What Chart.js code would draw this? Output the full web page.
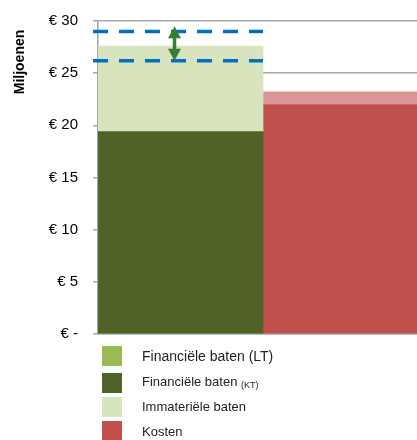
<!DOCTYPE html>
<html>
<head>
<meta charset="utf-8">
<script src="https://cdn.jsdelivr.net/npm/chart.js@4"></script>
<style>
    html, body { margin: 0; padding: 0; background: #fff; overflow: hidden; width: 417px; height: 440px; }
    #wrap { position: relative; width: 428px; height: 345px; }
    #chart { position: absolute; left: 0; top: -3px; }
    #legend { position: absolute; left: 102px; top: 346px; font-family: Arial, "Liberation Sans", sans-serif; }
    .item { position: absolute; left: 0; width: 300px; height: 20px; }
    .sw { position: absolute; left: 0; top: 0; width: 20px; height: 20px; }
    .lbl { position: absolute; left: 40px; white-space: nowrap; color: #222; }
    .lbl sub { font-size: 9px; vertical-align: -2px; }
</style>
</head>
<body>
<div id="wrap"><canvas id="chart" width="428" height="361"></canvas></div>
<div id="legend"></div>
<script>
// chart values (miljoenen euro)
const categories = ['Baten', 'Kosten'];
const financieleKT = [19.4, null];
const immaterieel = [8.2, null];
const kosten = [null, 22.0];
const kostenExtra = [null, 1.2];
const bandLines = [29.0, 26.2];
const arrowRange = [29.5, 26.2];
const yTicks = [0, 5, 10, 15, 20, 25, 30];

const colors = {
    lt: '#9BBB59',
    kt: '#4F6228',
    imm: '#D7E4BD',
    kosten: '#C0504D',
    kostenExtra: '#D99694'
};

// legend entries (first one is bigger in the original)
const legendItems = [
    { color: colors.lt, html: 'Financiële baten (LT)', top: 0, size: 14, textTop: 2 },
    { color: colors.kt, html: 'Financiële baten <sub>(KT)</sub>', top: 27, size: 13, textTop: 1 },
    { color: colors.imm, html: 'Immateriële baten', top: 51, size: 13, textTop: 2 },
    { color: colors.kosten, html: 'Kosten', top: 75, size: 13, textTop: 3 }
];

const legend = document.getElementById('legend');
legendItems.forEach(item => {
    const el = document.createElement('div');
    el.className = 'item';
    el.style.top = item.top + 'px';
    el.innerHTML = `
        <div class="sw" style="background:${item.color}"></div>
        <div class="lbl" style="top:${item.textTop}px;font-size:${item.size}px">${item.html}</div>
    `;
    legend.appendChild(el);
});

// dashed band + double arrow over the left bar, and the rotated axis title
const overlayPlugin = {
    id: 'overlay',
    afterDatasetsDraw(chart) {
        const ctx = chart.ctx;
        const y = chart.scales.y;
        const bar = chart.getDatasetMeta(0).data[0];
        const left = bar.x - bar.width / 2 - 5;
        const right = bar.x + bar.width / 2;

        ctx.save();
        ctx.strokeStyle = '#0070C0';
        ctx.lineWidth = 3.5;
        ctx.setLineDash([15, 11]);
        bandLines.forEach(v => {
            const py = y.getPixelForValue(v);
            ctx.beginPath();
            ctx.moveTo(left, py);
            ctx.lineTo(right, py);
            ctx.stroke();
        });
        ctx.setLineDash([]);

        // double arrow
        const ax = bar.x - 6;
        const top = y.getPixelForValue(arrowRange[0]);
        const bottom = y.getPixelForValue(arrowRange[1]);
        const head = 11;
        const half = 6.5;
        ctx.strokeStyle = '#3A7D34';
        ctx.fillStyle = '#3A7D34';
        ctx.lineWidth = 3.5;
        ctx.beginPath();
        ctx.moveTo(ax, top + head);
        ctx.lineTo(ax, bottom - head);
        ctx.stroke();
        ctx.beginPath();
        ctx.moveTo(ax, top);
        ctx.lineTo(ax - half, top + head + 1);
        ctx.lineTo(ax + half, top + head + 1);
        ctx.closePath();
        ctx.fill();
        ctx.beginPath();
        ctx.moveTo(ax, bottom);
        ctx.lineTo(ax - half, bottom - head - 1);
        ctx.lineTo(ax + half, bottom - head - 1);
        ctx.closePath();
        ctx.fill();

        // axis title
        ctx.translate(20, 65);
        ctx.rotate(-Math.PI / 2);
        ctx.font = 'bold 14px Arial, "Liberation Sans", sans-serif';
        ctx.fillStyle = '#000';
        ctx.textAlign = 'center';
        ctx.textBaseline = 'middle';
        ctx.fillText('Miljoenen', 0, 0);
        ctx.restore();
    }
};

new Chart(document.getElementById('chart'), {
    type: 'bar',
    data: {
        labels: categories,
        datasets: [
            { label: 'Financiële baten (KT)', data: financieleKT, backgroundColor: colors.kt },
            { label: 'Immateriële baten', data: immaterieel, backgroundColor: colors.imm },
            { label: 'Kosten', data: kosten, backgroundColor: colors.kosten },
            { label: 'Kosten (extra)', data: kostenExtra, backgroundColor: colors.kostenExtra }
        ]
    },
    options: {
        responsive: false,
        animation: false,
        maintainAspectRatio: false,
        layout: { padding: { top: 15, bottom: 11, left: 0, right: 0 } },
        datasets: {
            bar: { categoryPercentage: 1, barPercentage: 1, borderWidth: 0 }
        },
        plugins: {
            legend: { display: false },
            tooltip: { enabled: false }
        },
        scales: {
            x: {
                stacked: true,
                ticks: { display: false },
                grid: { display: false },
                border: { display: true, color: '#a6a6a6', width: 1.5 }
            },
            y: {
                stacked: true,
                min: 0,
                max: 30,
                afterBuildTicks: scale => {
                    scale.ticks = yTicks.map(v => ({ value: v }));
                },
                afterFit: scale => {
                    scale.width = 98;
                },
                ticks: {
                    padding: 15,
                    color: '#000',
                    font: { family: 'Arial, "Liberation Sans", sans-serif', size: 15 },
                    callback: value => value === 0 ? '€ -' : '€ ' + value
                },
                grid: {
                    color: '#a6a6a6',
                    lineWidth: 1.5,
                    tickLength: 5
                },
                border: { color: '#a6a6a6', width: 1.5 }
            }
        }
    },
    plugins: [overlayPlugin]
});
</script>
</body>
</html>
